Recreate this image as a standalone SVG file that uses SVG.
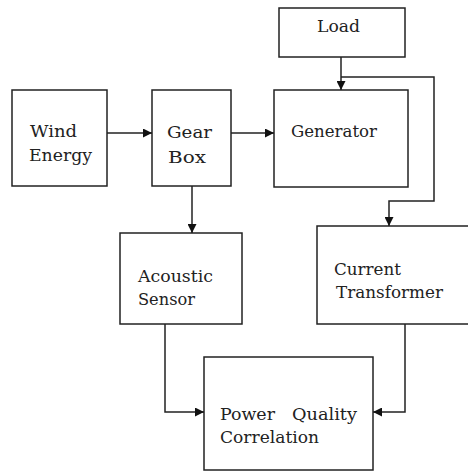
<svg xmlns="http://www.w3.org/2000/svg" width="468" height="472" viewBox="0 0 468 472">
<style>
.box{fill:#fff;stroke:#222;stroke-width:1.5}
.ln{fill:none;stroke:#222;stroke-width:1.5}
.t{font-family:'DejaVu Serif','Liberation Serif',serif;font-size:17px;fill:#222}
</style>
<defs>
<marker id="ah" viewBox="0 0 10 10" refX="10" refY="5" markerWidth="9" markerHeight="9" markerUnits="userSpaceOnUse" orient="auto">
<path d="M0,0 L10,5 L0,10 Z" fill="#111"/>
</marker>
</defs>
<rect width="468" height="472" fill="#fff"/>
<g id="load"><rect class="box" x="279" y="8" width="126" height="49"/><text class="t" x="317" y="32" textLength="43" lengthAdjust="spacingAndGlyphs">Load</text></g>
<g id="wind"><rect class="box" x="12" y="90" width="95" height="96"/><text class="t" x="30" y="137" textLength="47" lengthAdjust="spacingAndGlyphs">Wind</text><text class="t" x="29" y="161" textLength="63" lengthAdjust="spacingAndGlyphs">Energy</text></g>
<g id="gearbox"><rect class="box" x="152" y="90" width="79" height="96"/><text class="t" x="167" y="138" textLength="45" lengthAdjust="spacingAndGlyphs">Gear</text><text class="t" x="168" y="163" textLength="38" lengthAdjust="spacingAndGlyphs">Box</text></g>
<g id="generator"><rect class="box" x="274" y="90" width="134" height="97"/><text class="t" x="291" y="137" textLength="86" lengthAdjust="spacingAndGlyphs">Generator</text></g>
<g id="acoustic"><rect class="box" x="120" y="233" width="122" height="91"/><text class="t" x="138" y="282" textLength="75" lengthAdjust="spacingAndGlyphs">Acoustic</text><text class="t" x="138" y="305" textLength="57" lengthAdjust="spacingAndGlyphs">Sensor</text></g>
<g id="ct"><rect class="box" x="317" y="226" width="160" height="98"/><text class="t" x="334" y="275" textLength="67" lengthAdjust="spacingAndGlyphs">Current</text><text class="t" x="336" y="298" textLength="107" lengthAdjust="spacingAndGlyphs">Transformer</text></g>
<g id="pqc"><rect class="box" x="204" y="357" width="169" height="113"/><text class="t" x="220" y="420" textLength="55" lengthAdjust="spacingAndGlyphs">Power</text><text class="t" x="292" y="420" textLength="65" lengthAdjust="spacingAndGlyphs">Quality</text><text class="t" x="220" y="443" textLength="99" lengthAdjust="spacingAndGlyphs">Correlation</text></g>
<g id="connectors">
<path class="ln" d="M107,133 H152" marker-end="url(#ah)"/>
<path class="ln" d="M231,133 H274" marker-end="url(#ah)"/>
<path class="ln" d="M192,186 V233" marker-end="url(#ah)"/>
<path class="ln" d="M341,57 V90" marker-end="url(#ah)"/>
<path class="ln" d="M341,77 H434 V201 H389 V226" marker-end="url(#ah)"/>
<path class="ln" d="M165,324 V412 H204" marker-end="url(#ah)"/>
<path class="ln" d="M405,324 V412 H373" marker-end="url(#ah)"/>
</g>
</svg>
